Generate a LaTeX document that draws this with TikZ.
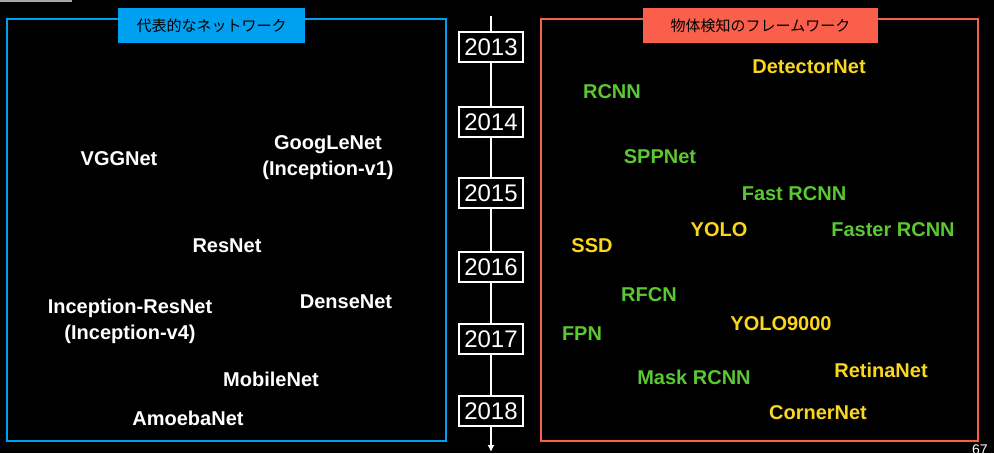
\documentclass[tikz,border=0pt]{standalone}
\usepackage{fontspec}
\usetikzlibrary{arrows.meta}
\setmainfont{Liberation Sans}
\newfontfamily\cjk{Noto Sans CJK JP}
\definecolor{gr}{RGB}{90,200,50}
\definecolor{yl}{RGB}{250,215,30}
\definecolor{bl}{RGB}{0,160,240}
\definecolor{rd}{RGB}{250,95,75}
\begin{document}
\begin{tikzpicture}[x=1pt,y=-1pt,
  lab/.style={font=\fontsize{20}{22}\selectfont\bfseries, inner sep=0pt},
  wt/.style={lab,text=white}, gn/.style={lab,text=gr}, yw/.style={lab,text=yl},
  yr/.style={draw=white, line width=1.2pt, fill=black, text=white, font=\fontsize{24}{24}\selectfont, minimum width=64pt, minimum height=30pt, inner sep=1pt}]
\fill[black] (0,0) rectangle (994,453);
\useasboundingbox (0,0) rectangle (994,453);
\fill[gray!70] (0,0) rectangle (72,2);
\draw[bl, line width=1.2pt] (7,19) rectangle (446,441);
\draw[rd, line width=1.2pt] (541,19) rectangle (978,441);
\node[fill=bl, minimum width=187pt, minimum height=35pt, font=\cjk\fontsize{15}{15}\selectfont] (tl) at (211.5,25.5) {代表的なネットワーク};
\node[fill=rd, minimum width=235pt, minimum height=35pt, font=\cjk\fontsize{15}{15}\selectfont] (tr) at (760.5,25.5) {物体検知のフレームワーク};
\coordinate (top) at (491,16);
\coordinate (bot) at (491,452);
\draw[white, line width=1.2pt, -{Latex[length=7pt,width=7pt]}] (top) -- (bot);
\node[yr] (y13) at (491,47) {2013};
\node[yr] (y14) at (491,122) {2014};
\node[yr] (y15) at (491,193) {2015};
\node[yr] (y16) at (491,267) {2016};
\node[yr] (y17) at (491,339) {2017};
\node[yr] (y18) at (491,411) {2018};
\node[wt] (vgg) at (119,159) {VGGNet};
\node[wt, align=center] (goog) at (328,158) {GoogLeNet\\[4pt](Inception-v1)};
\node[wt] (res) at (227,246) {ResNet};
\node[wt, align=center] (incres) at (130,321) {Inception-ResNet\\[4pt](Inception-v4)};
\node[wt] (dense) at (346,302) {DenseNet};
\node[wt] (mob) at (271,379) {MobileNet};
\node[wt] (amoeba) at (188,418) {AmoebaNet};
\node[yw] (det) at (809,67) {DetectorNet};
\node[gn] (rcnn) at (612,92) {RCNN};
\node[gn] (spp) at (660,157) {SPPNet};
\node[gn] (fast) at (794,194) {Fast RCNN};
\node[yw] (yolo) at (719,230) {YOLO};
\node[gn] (faster) at (893,230) {Faster RCNN};
\node[yw] (ssd) at (592,246) {SSD};
\node[gn] (rfcn) at (649,295) {RFCN};
\node[yw] (y9000) at (781,324) {YOLO9000};
\node[gn] (fpn) at (582,334) {FPN};
\node[yw] (retina) at (881,370) {RetinaNet};
\node[gn] (mask) at (694,377) {Mask RCNN};
\node[yw] (corner) at (818,413) {CornerNet};
\node[white, font=\fontsize{14}{14}\selectfont, anchor=north west, inner sep=0pt] (pg) at (972,445) {67};
\end{tikzpicture}
\end{document}
